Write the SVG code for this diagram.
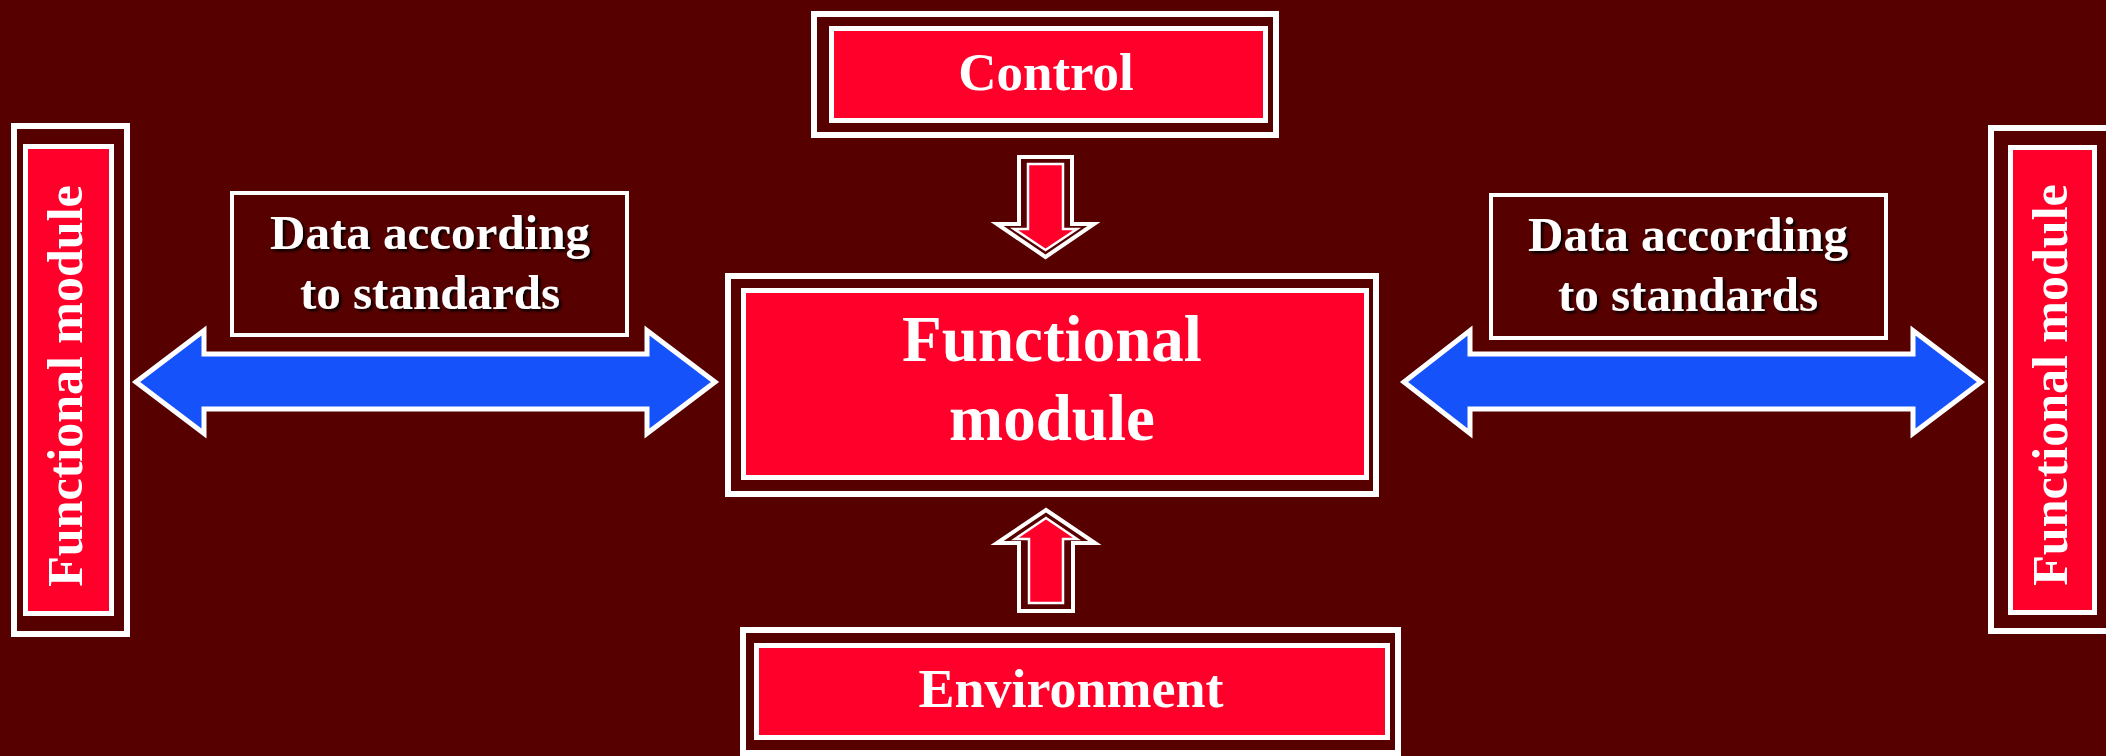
<svg xmlns="http://www.w3.org/2000/svg" width="2106" height="756" viewBox="0 0 2106 756">
<style>
.outer{fill:none;stroke:#ffffff;stroke-width:6}
.inner{fill:#FF002B;stroke:#ffffff;stroke-width:5}
.lbl{fill:none;stroke:#ffffff;stroke-width:4}
.t{font-family:"Liberation Serif","Times New Roman",serif;font-weight:bold;fill:#ffffff;text-anchor:middle}
.blue{fill:#1652F9;stroke:#ffffff;stroke-width:5;stroke-linejoin:miter}
.rout{fill:#560000;stroke:#ffffff;stroke-width:4}
.rin{fill:#FF002B;stroke:#ffffff;stroke-width:2.5}
</style>
<defs>
<filter id="sh" x="-10%" y="-30%" width="120%" height="160%">
<feDropShadow dx="2.5" dy="2.5" stdDeviation="1" flood-color="#000000" flood-opacity="0.9"/>
</filter>
</defs>
<rect width="2106" height="756" fill="#560000"/>

<g id="connectors">
<path class="blue" d="M136,382 L204,330.5 L204,354 L647,354 L647,330.5 L715,382 L647,433.5 L647,409 L204,409 L204,433.5 Z"/>
<path class="blue" d="M1404,382 L1470,330.5 L1470,354 L1913,354 L1913,330.5 L1981,382 L1913,433.5 L1913,409 L1470,409 L1470,433.5 Z"/>
<g id="arrow-control">
<path class="rout" d="M1019,157 H1072 V224 H1094 L1045.5,257 L997,224 H1019 Z"/>
<path class="rin" d="M1028,164 H1063 V229 H1077 L1045.5,250 L1014,229 H1028 Z"/>
</g>
<g id="arrow-environment">
<path class="rout" d="M1046,510 L1095,543 H1073 V611 H1019 V543 H997 Z"/>
<path class="rin" d="M1046,518 L1077,539 H1063 V603 H1029 V539 H1015 Z"/>
</g>
</g>

<g id="node-left-module">
<rect class="outer" x="14" y="126" width="113" height="508"/>
<rect class="inner" x="25.5" y="146.5" width="86" height="467"/>
<text class="t" font-size="50" transform="translate(82,386) rotate(-90)">Functional module</text>
</g>

<g id="node-right-module">
<rect class="outer" x="1991" y="128" width="118" height="503"/>
<rect class="inner" x="2010.5" y="147.5" width="84" height="465"/>
<text class="t" font-size="50" transform="translate(2067,385) rotate(-90)">Functional module</text>
</g>

<g id="node-control">
<rect class="outer" x="814" y="14" width="462" height="121"/>
<rect class="inner" x="831.5" y="28.5" width="434" height="92"/>
<text class="t" font-size="53" x="1046" y="90">Control</text>
</g>

<g id="node-center-module">
<rect class="outer" x="728" y="276" width="648" height="218"/>
<rect class="inner" x="743.5" y="290.5" width="623" height="187"/>
<text class="t" font-size="65" x="1052" y="361">Functional</text>
<text class="t" font-size="65" x="1052" y="440">module</text>
</g>

<g id="node-environment">
<rect class="outer" x="743" y="630" width="655" height="123"/>
<rect class="inner" x="756.5" y="645.5" width="631" height="92"/>
<text class="t" font-size="54" x="1071" y="707">Environment</text>
</g>

<g id="label-left-data">
<rect class="lbl" x="232" y="193" width="395" height="142"/>
<text class="t" font-size="49" x="430" y="249" filter="url(#sh)">Data according</text>
<text class="t" font-size="49" x="430" y="309" filter="url(#sh)">to standards</text>
</g>

<g id="label-right-data">
<rect class="lbl" x="1491" y="195" width="395" height="143"/>
<text class="t" font-size="49" x="1688" y="251" filter="url(#sh)">Data according</text>
<text class="t" font-size="49" x="1688" y="311" filter="url(#sh)">to standards</text>
</g>
</svg>
